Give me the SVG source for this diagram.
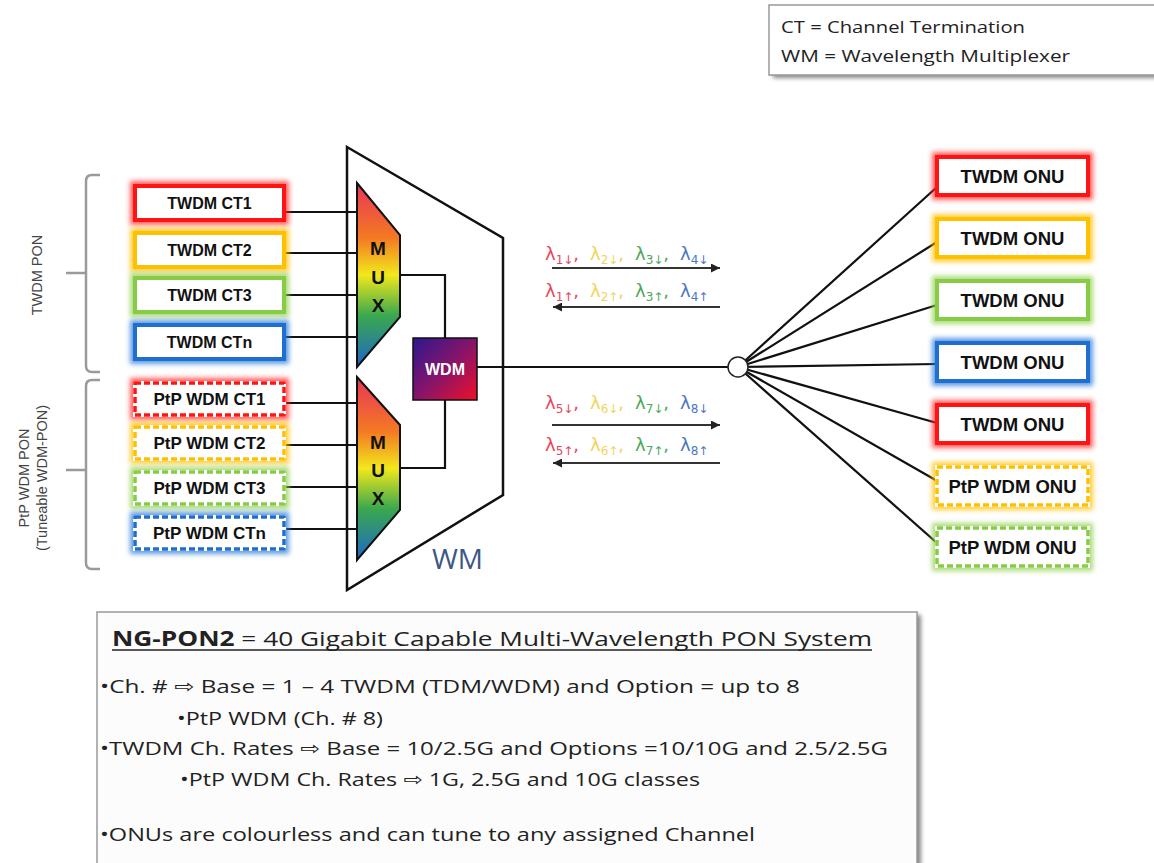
<svg xmlns="http://www.w3.org/2000/svg" width="1154" height="863" viewBox="0 0 1154 863">
<style>
.ct{font-family:"Liberation Sans",Arial,sans-serif;font-weight:bold;fill:#111;text-anchor:middle}
.box{fill:#fff;stroke-width:4}
.glow{fill:none;stroke-width:10;opacity:0.75}
.dash{fill:none;stroke-width:3.5;stroke-dasharray:6 3}
.wire{stroke:#111;stroke-width:2.2;fill:none}
.body{font-family:"Open Sans","DejaVu Sans",sans-serif;fill:#222}
.lam{font-family:"DejaVu Sans",sans-serif;font-size:18px}
.sub{font-size:12px}
.brk{stroke:#9a9a9a;stroke-width:2.5;fill:none}
.side{font-family:"Liberation Sans",Arial,sans-serif;font-size:14.5px;fill:#444;text-anchor:middle}
.mux{font-family:"Liberation Sans",Arial,sans-serif;font-size:19px;font-weight:bold;fill:#111;text-anchor:middle}
</style>
<defs>
<filter id="blur" x="-20%" y="-50%" width="140%" height="200%"><feGaussianBlur stdDeviation="2.5"/></filter>
<filter id="shadow" x="-5%" y="-20%" width="110%" height="140%"><feGaussianBlur stdDeviation="2"/></filter>
<linearGradient id="muxg" x1="0" y1="0" x2="0" y2="1">
<stop offset="0" stop-color="#e8345a"/>
<stop offset="0.3" stop-color="#f47a22"/>
<stop offset="0.5" stop-color="#f2e81c"/>
<stop offset="0.72" stop-color="#3aa84e"/>
<stop offset="1" stop-color="#1e66c8"/>
</linearGradient>
<linearGradient id="wdmg" x1="0" y1="0" x2="1" y2="1">
<stop offset="0" stop-color="#2a1890"/>
<stop offset="0.5" stop-color="#86146a"/>
<stop offset="1" stop-color="#f01028"/>
</linearGradient>
<marker id="arr" viewBox="0 0 10 10" refX="10" refY="5" markerWidth="13" markerHeight="9" markerUnits="userSpaceOnUse" orient="auto">
<path d="M0,0 L10,5 L0,10 z" fill="#222"/>
</marker>
</defs>
<rect width="1154" height="863" fill="#fff"/>

<g id="legend">
<rect x="773" y="8" width="390" height="70" fill="#888" filter="url(#shadow)"/>
<rect x="769" y="5" width="390" height="70" fill="#fff" stroke="#999" stroke-width="1.5"/>
<text class="body" x="781" y="33" font-size="17" textLength="244" lengthAdjust="spacingAndGlyphs">CT = Channel Termination</text>
<text class="body" x="781" y="62" font-size="17" textLength="289" lengthAdjust="spacingAndGlyphs">WM = Wavelength Multiplexer</text>
</g>

<g id="brackets">
<path class="brk" d="M100,175 H92 Q86,175 86,181 V366 Q86,372 92,372 H100 M66,273 H86"/>
<path class="brk" d="M100,380 H92 Q86,380 86,386 V563 Q86,569 92,569 H100 M66,470 H86"/>
<text class="side" transform="translate(42,275) rotate(-90)">TWDM PON</text>
<text class="side" transform="translate(29,478) rotate(-90)">PtP WDM PON</text>
<text class="side" transform="translate(47,478) rotate(-90)">(Tuneable WDM-PON)</text>
</g>

<g id="connectors">
<line class="wire" x1="284" y1="212" x2="357" y2="212"/>
<line class="wire" x1="284" y1="253" x2="357" y2="253"/>
<line class="wire" x1="284" y1="295" x2="357" y2="295"/>
<line class="wire" x1="284" y1="337" x2="357" y2="337"/>
<line class="wire" x1="284" y1="403" x2="357" y2="403"/>
<line class="wire" x1="284" y1="445" x2="357" y2="445"/>
<line class="wire" x1="284" y1="487" x2="357" y2="487"/>
<line class="wire" x1="284" y1="529" x2="357" y2="529"/>
<polyline class="wire" points="400,275 445,275 445,338"/>
<polyline class="wire" points="400,468 445,468 445,400"/>
<line class="wire" x1="477" y1="367" x2="738" y2="367"/>
<line class="wire" x1="738" y1="367" x2="937" y2="187"/>
<line class="wire" x1="738" y1="367" x2="937" y2="242"/>
<line class="wire" x1="738" y1="367" x2="937" y2="305"/>
<line class="wire" x1="738" y1="367" x2="937" y2="364"/>
<line class="wire" x1="738" y1="367" x2="937" y2="423"/>
<line class="wire" x1="738" y1="367" x2="939" y2="482"/>
<line class="wire" x1="738" y1="367" x2="937" y2="543"/>
<line x1="552" y1="268" x2="720" y2="268" stroke="#333" stroke-width="2" marker-end="url(#arr)"/>
<line x1="720" y1="307" x2="553" y2="307" stroke="#333" stroke-width="2" marker-end="url(#arr)"/>
<line x1="552" y1="425" x2="720" y2="425" stroke="#333" stroke-width="2" marker-end="url(#arr)"/>
<line x1="720" y1="463" x2="553" y2="463" stroke="#333" stroke-width="2" marker-end="url(#arr)"/>
</g>

<g id="wm">
<polygon points="347,147 503,238 503,495 347,590" fill="none" stroke="#111" stroke-width="2.5"/>
<text x="432" y="569" font-family="'Open Sans',sans-serif" font-size="28" fill="#3d5785">WM</text>
</g>

<g id="mux1">
<polygon points="357,183 400,235 400,317 357,367" fill="url(#muxg)" stroke="#111" stroke-width="2"/>
<text class="mux" x="378" y="255">M</text>
<text class="mux" x="378" y="284">U</text>
<text class="mux" x="378" y="312">X</text>
</g>
<g id="mux2">
<polygon points="357,377 400,425 400,510 357,560" fill="url(#muxg)" stroke="#111" stroke-width="2"/>
<text class="mux" x="378" y="449">M</text>
<text class="mux" x="378" y="477">U</text>
<text class="mux" x="378" y="505">X</text>
</g>
<g id="wdm">
<rect x="413" y="338" width="64" height="62" fill="url(#wdmg)" stroke="#111" stroke-width="1.5"/>
<text x="445" y="375" font-family="'Liberation Sans',Arial,sans-serif" font-size="16" font-weight="bold" fill="#fff" text-anchor="middle">WDM</text>
</g>

<g id="splitter">
<circle cx="738" cy="367" r="10" fill="#fff" stroke="#222" stroke-width="1.5"/>
</g>

<g id="ct1">
<rect class="glow" x="135" y="186" width="149" height="34" stroke="#ff2a2a" filter="url(#blur)"/>
<rect class="box" x="135" y="186" width="149" height="34" stroke="#ff1414"/>
<text class="ct" x="209.5" y="209" font-size="16">TWDM CT1</text>
</g>
<g id="ct2">
<rect class="glow" x="135" y="233" width="149" height="34" stroke="#ffc000" filter="url(#blur)"/>
<rect class="box" x="135" y="233" width="149" height="34" stroke="#ffc000"/>
<text class="ct" x="209.5" y="256" font-size="16">TWDM CT2</text>
</g>
<g id="ct3">
<rect class="glow" x="135" y="278" width="149" height="34" stroke="#92d050" filter="url(#blur)"/>
<rect class="box" x="135" y="278" width="149" height="34" stroke="#86cc44"/>
<text class="ct" x="209.5" y="301" font-size="16">TWDM CT3</text>
</g>
<g id="ctn">
<rect class="glow" x="135" y="325" width="149" height="34" stroke="#2a7ad8" filter="url(#blur)"/>
<rect class="box" x="135" y="325" width="149" height="34" stroke="#1f6fd0"/>
<text class="ct" x="209.5" y="348" font-size="16">TWDM CTn</text>
</g>

<g id="ptp1">
<rect class="glow" x="135" y="383" width="149" height="32" stroke="#ff2a2a" filter="url(#blur)"/>
<rect class="box" x="135" y="383" width="149" height="32" stroke="#fff" stroke-width="3"/>
<rect class="dash" x="135" y="383" width="149" height="32" stroke="#ff1414"/>
<text class="ct" x="209.5" y="405" font-size="17">PtP WDM CT1</text>
</g>
<g id="ptp2">
<rect class="glow" x="135" y="427" width="149" height="32" stroke="#ffc000" filter="url(#blur)"/>
<rect class="box" x="135" y="427" width="149" height="32" stroke="#fff" stroke-width="3"/>
<rect class="dash" x="135" y="427" width="149" height="32" stroke="#ffc000"/>
<text class="ct" x="209.5" y="449" font-size="17">PtP WDM CT2</text>
</g>
<g id="ptp3">
<rect class="glow" x="135" y="472" width="149" height="32" stroke="#92d050" filter="url(#blur)"/>
<rect class="box" x="135" y="472" width="149" height="32" stroke="#fff" stroke-width="3"/>
<rect class="dash" x="135" y="472" width="149" height="32" stroke="#86cc44"/>
<text class="ct" x="209.5" y="494" font-size="17">PtP WDM CT3</text>
</g>
<g id="ptpn">
<rect class="glow" x="135" y="517" width="149" height="32" stroke="#2a7ad8" filter="url(#blur)"/>
<rect class="box" x="135" y="517" width="149" height="32" stroke="#fff" stroke-width="3"/>
<rect class="dash" x="135" y="517" width="149" height="32" stroke="#1f6fd0"/>
<text class="ct" x="209.5" y="539" font-size="17">PtP WDM CTn</text>
</g>

<g id="onu1">
<rect class="glow" x="937" y="157" width="151" height="38" stroke="#ff2a2a" filter="url(#blur)"/>
<rect class="box" x="937" y="157" width="151" height="38" stroke="#ff1414"/>
<text class="ct" x="1012.5" y="182.5" font-size="18.5">TWDM ONU</text>
</g>
<g id="onu2">
<rect class="glow" x="937" y="219" width="151" height="38" stroke="#ffc000" filter="url(#blur)"/>
<rect class="box" x="937" y="219" width="151" height="38" stroke="#ffc000"/>
<text class="ct" x="1012.5" y="244.5" font-size="18.5">TWDM ONU</text>
</g>
<g id="onu3">
<rect class="glow" x="937" y="281" width="151" height="38" stroke="#92d050" filter="url(#blur)"/>
<rect class="box" x="937" y="281" width="151" height="38" stroke="#86cc44"/>
<text class="ct" x="1012.5" y="306.5" font-size="18.5">TWDM ONU</text>
</g>
<g id="onu4">
<rect class="glow" x="937" y="343" width="151" height="38" stroke="#2a7ad8" filter="url(#blur)"/>
<rect class="box" x="937" y="343" width="151" height="38" stroke="#1f6fd0"/>
<text class="ct" x="1012.5" y="368.5" font-size="18.5">TWDM ONU</text>
</g>
<g id="onu5">
<rect class="glow" x="937" y="405" width="151" height="38" stroke="#ff2a2a" filter="url(#blur)"/>
<rect class="box" x="937" y="405" width="151" height="38" stroke="#ff1414"/>
<text class="ct" x="1012.5" y="430.5" font-size="18.5">TWDM ONU</text>
</g>
<g id="onu6">
<rect class="glow" x="937" y="467" width="151" height="38" stroke="#ffc000" filter="url(#blur)"/>
<rect class="box" x="937" y="467" width="151" height="38" stroke="#fff" stroke-width="3"/>
<rect class="dash" x="937" y="467" width="151" height="38" stroke="#ffc000"/>
<text class="ct" x="1012.5" y="492.5" font-size="18.5">PtP WDM ONU</text>
</g>
<g id="onu7">
<rect class="glow" x="937" y="528" width="151" height="38" stroke="#92d050" filter="url(#blur)"/>
<rect class="box" x="937" y="528" width="151" height="38" stroke="#fff" stroke-width="3"/>
<rect class="dash" x="937" y="528" width="151" height="38" stroke="#86cc44"/>
<text class="ct" x="1012.5" y="553.5" font-size="18.5">PtP WDM ONU</text>
</g>

<g id="lambdas">
<text class="lam" x="545" y="260" fill="#e8465a">λ<tspan class="sub" dy="4">1↓</tspan><tspan dy="-4">,</tspan></text>
<text class="lam" x="590" y="260" fill="#f2d35a">λ<tspan class="sub" dy="4">2↓</tspan><tspan dy="-4">,</tspan></text>
<text class="lam" x="635" y="260" fill="#4aa85a">λ<tspan class="sub" dy="4">3↓</tspan><tspan dy="-4">,</tspan></text>
<text class="lam" x="680" y="260" fill="#4a78c0">λ<tspan class="sub" dy="4">4↓</tspan></text>
<text class="lam" x="545" y="297" fill="#e8465a">λ<tspan class="sub" dy="4">1↑</tspan><tspan dy="-4">,</tspan></text>
<text class="lam" x="590" y="297" fill="#f2d35a">λ<tspan class="sub" dy="4">2↑</tspan><tspan dy="-4">,</tspan></text>
<text class="lam" x="635" y="297" fill="#4aa85a">λ<tspan class="sub" dy="4">3↑</tspan><tspan dy="-4">,</tspan></text>
<text class="lam" x="680" y="297" fill="#4a78c0">λ<tspan class="sub" dy="4">4↑</tspan></text>
<text class="lam" x="545" y="409" fill="#e8465a">λ<tspan class="sub" dy="4">5↓</tspan><tspan dy="-4">,</tspan></text>
<text class="lam" x="590" y="409" fill="#f2d35a">λ<tspan class="sub" dy="4">6↓</tspan><tspan dy="-4">,</tspan></text>
<text class="lam" x="635" y="409" fill="#4aa85a">λ<tspan class="sub" dy="4">7↓</tspan><tspan dy="-4">,</tspan></text>
<text class="lam" x="680" y="409" fill="#4a78c0">λ<tspan class="sub" dy="4">8↓</tspan></text>
<text class="lam" x="545" y="451" fill="#e8465a">λ<tspan class="sub" dy="4">5↑</tspan><tspan dy="-4">,</tspan></text>
<text class="lam" x="590" y="451" fill="#f2d35a">λ<tspan class="sub" dy="4">6↑</tspan><tspan dy="-4">,</tspan></text>
<text class="lam" x="635" y="451" fill="#4aa85a">λ<tspan class="sub" dy="4">7↑</tspan><tspan dy="-4">,</tspan></text>
<text class="lam" x="680" y="451" fill="#4a78c0">λ<tspan class="sub" dy="4">8↑</tspan></text>
</g>

<g id="summary">
<rect x="101" y="615" width="820" height="260" fill="#888" filter="url(#shadow)"/>
<rect x="97" y="612" width="820" height="260" fill="#fcfcfc" stroke="#999" stroke-width="1.5"/>
<text class="body" x="112" y="646" font-size="20.5" textLength="760" lengthAdjust="spacingAndGlyphs"><tspan font-weight="bold">NG-PON2</tspan> = 40 Gigabit Capable Multi-Wavelength PON System</text>
<line x1="112" y1="650" x2="872" y2="650" stroke="#222" stroke-width="1.3"/>
<text class="body" x="100" y="693" font-size="18.5" textLength="700" lengthAdjust="spacingAndGlyphs">•Ch. # ⇨ Base = 1 – 4 TWDM (TDM/WDM) and Option = up to 8</text>
<text class="body" x="177" y="725" font-size="18.5" textLength="206" lengthAdjust="spacingAndGlyphs">•PtP WDM (Ch. # 8)</text>
<text class="body" x="100" y="755" font-size="18.5" textLength="788" lengthAdjust="spacingAndGlyphs">•TWDM Ch. Rates ⇨ Base = 10/2.5G and Options =10/10G and 2.5/2.5G</text>
<text class="body" x="180" y="786" font-size="18.5" textLength="520" lengthAdjust="spacingAndGlyphs">•PtP WDM Ch. Rates ⇨ 1G, 2.5G and 10G classes</text>
<text class="body" x="100" y="841" font-size="18.5" textLength="655" lengthAdjust="spacingAndGlyphs">•ONUs are colourless and can tune to any assigned Channel</text>
</g>
</svg>
